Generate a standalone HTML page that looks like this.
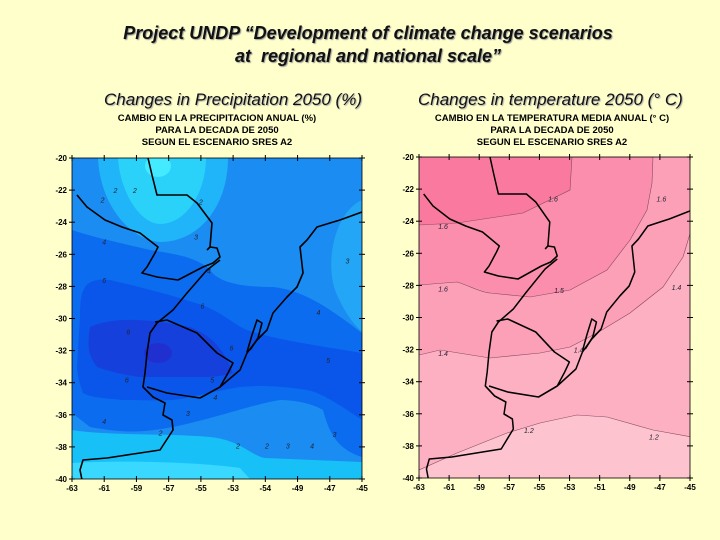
<!DOCTYPE html>
<html><head><meta charset="utf-8"><style>
body{margin:0;background:#ffffcc;}
#wrap{position:relative;width:720px;height:540px;overflow:hidden;background:#ffffcc;font-family:"Liberation Sans",sans-serif;}
.t{position:absolute;font-weight:bold;font-style:italic;font-size:18px;color:#111;text-shadow:1px 1px 1px #999;white-space:nowrap;}
.s{position:absolute;font-style:italic;font-size:17px;color:#111;text-shadow:1px 1px 1px #aaa;white-space:nowrap;}
</style></head><body>
<div id="wrap">
<div class="t" style="left:0;width:736px;text-align:center;top:23px">Project UNDP “Development of climate change scenarios</div>
<div class="t" style="left:0;width:736px;text-align:center;top:46px">at&nbsp; regional and national scale”</div>
<div class="s" style="left:104px;top:90px">Changes in Precipitation 2050 (%)</div>
<div class="s" style="left:418px;top:90px">Changes in temperature 2050 (° C)</div>
<svg id="svg" width="720" height="540" style="position:absolute;left:0;top:0">
<defs>
<clipPath id="c1"><rect x="72" y="158" width="290" height="321"/></clipPath>
<clipPath id="c2"><rect x="419" y="157" width="271" height="321"/></clipPath>
<g id="coast" fill="none" stroke="#000" stroke-width="1.6" stroke-linejoin="round">
<path d="M77,195 L87,207 L105,220 L122,227 L140,233 L158,247 L155,253 L147,267 L142,273 L157,277 L178,280 L203,267 L213,263 L220,257 L217,248 L210,247"/>
<path d="M148,158 L152,175 L157,195 L187,195 L197,203 L212,223 L210,247 L207,250"/>
<path d="M220,260 L207,270 L187,293 L173,310 L157,323 L150,333 L147,353 L145,373 L143,387 L153,397 L165,403 L163,415 L172,420 L173,430 L160,450 L140,453 L107,458 L83,460 L80,470 L82,480"/>
<path d="M155,322 L167,320 L197,333 L217,353 L233,363 L228,373 L220,387 L200,398 L167,393 L147,387"/>
<path d="M220,387 L240,370 L247,353 L257,340 L267,330 L273,313 L287,297 L297,287 L303,273 L300,247 L307,240 L317,227 L330,223 L340,220 L362,212"/>
<path d="M247,352 L252,335 L257,320 L262,323 L258,338 L250,350"/>
</g>
</defs>
<g>
<g clip-path="url(#c1)">
<rect x="72" y="158" width="290" height="321" fill="#1a8cf2"/>
<path fill="#20b4f8" d="M98,158 C100,205 130,240 160,242 C200,242 228,205 228,158 Z"/>
<path fill="#2ad2fa" d="M118,158 C120,192 140,224 160,224 C186,224 206,192 206,158 Z"/>
<ellipse cx="158" cy="166" rx="13" ry="11" fill="#44eaff"/>
<path fill="#22a6f5" d="M362,200 C335,212 325,260 335,290 C345,315 355,325 362,332 Z"/>
<path fill="#0b6cf0" d="M72,230 C90,236 107,240 150,250 C175,254 197,257 210,270 C220,285 250,287 273,287 C300,290 323,303 362,333 L362,457 C340,450 330,437 323,410 C310,402 290,400 280,400 C250,405 220,417 173,427 C140,433 123,433 90,427 L72,413 Z"/>
<path fill="#0a56ea" d="M80,317 C80,290 83,277 110,280 C140,287 180,297 207,307 C225,315 235,325 247,330 C270,338 300,343 362,353 L362,420 C340,405 320,392 307,390 C280,386 260,385 240,387 C210,392 190,398 173,400 C150,401 135,400 123,400 C100,398 90,397 83,393 C78,380 77,370 77,367 Z"/>
<path fill="#1640dc" d="M90,327 C110,318 140,317 190,327 C210,335 223,347 233,373 C220,377 207,377 207,377 L140,377 C115,374 97,367 97,367 C88,355 87,347 90,327 Z"/>
<ellipse cx="158" cy="353" rx="14" ry="10" fill="#2030d0"/>
<path fill="#18c0f8" d="M72,430 C110,436 170,433 210,437 C240,440 250,455 265,458 L362,462 L362,479 L72,479 Z"/>
<path fill="#38d8ff" d="M72,463 C120,460 200,462 240,468 L250,479 L72,479 Z"/>
<use href="#coast"/>
</g>
<g id="ax1"></g>
</g>
<g>
<g clip-path="url(#c2)">
<rect x="419" y="157" width="271" height="321" fill="#fdb0c2"/>
<path fill="#fca0b8" d="M419,285 L457,282 C470,286 480,292 490,293 L530,297 L570,290 L607,270 L630,240 L647,210 L652,183 L653,157 L690,157 L690,227 C688,245 686,252 683,257 L663,287 L630,313 L597,333 L570,347 L540,353 L490,358 L440,350 L419,355 Z"/>
<path fill="#fb8eac" d="M419,157 L653,157 L652,183 L647,210 L630,240 L607,270 L570,290 L530,297 L490,293 L457,282 L419,285 Z"/>
<path fill="#f97a9e" d="M419,157 L572,157 L570,190 L523,213 L457,223 L419,225 Z"/>
<path fill="#fdc4cf" d="M419,470 L457,453 L507,433 L540,423 L577,415 L607,417 L653,430 L690,437 L690,478 L419,478 Z"/>
<g fill="none" stroke="#8a4a60" stroke-width="0.6">
<path d="M419,225 L457,223 L523,213 L570,190 L572,157"/>
<path d="M419,285 L457,282 C470,286 480,292 490,293 L530,297 L570,290 L607,270 L630,240 L647,210 L652,183 L653,157"/>
<path d="M419,355 L440,350 L490,358 L540,353 L570,347 L597,333 L630,313 L663,287 L683,257 L692,227"/>
<path d="M419,470 L457,453 L507,433 L540,423 L577,415 L607,417 L653,430 L692,437"/>
</g>
<use href="#coast" transform="translate(419,157) scale(0.934,1) translate(-72,-158)"/>
</g>
<g id="ax2"></g>
</g>
</svg>
</div>
<script>
const latTicks=[-20,-22,-24,-26,-28,-30,-32,-34,-36,-38,-40];
const lonTicks=[-63,-61,-59,-57,-55,-53,-51,-49,-47,-45];
const lonLabels1=["-63","-61","-59","-57","-55","-53","-54","-49","-47","-45"];
const lonLabels2=["-63","-61","-59","-57","-55","-53","-51","-49","-47","-45"];
const mapTitles1=["CAMBIO EN LA PRECIPITACION ANUAL (%)","PARA LA DECADA DE 2050","SEGUN EL ESCENARIO SRES A2"];
const mapTitles2=["CAMBIO EN LA TEMPERATURA MEDIA ANUAL (° C)","PARA LA DECADA DE 2050","SEGUN EL ESCENARIO SRES A2"];
const precipLabels=[["2",-61.1,-22.6],["2",-60.3,-22],["2",-59.1,-22],["2",-55,-22.7],["4",-61,-25.2],["3",-55.3,-24.9],["4",-54.5,-27],["3",-45.9,-26.4],["6",-61,-27.6],["6",-54.9,-29.2],["4",-47.7,-29.6],["6",-59.5,-30.8],["6",-53.1,-31.8],["5",-47.1,-32.6],["6",-59.6,-33.8],["5",-54.3,-33.8],["4",-54.1,-34.9],["3",-55.8,-35.9],["4",-61,-36.4],["2",-57.5,-37.1],["3",-46.7,-37.2],["2",-52.7,-37.9],["2",-50.9,-37.9],["3",-49.6,-37.9],["4",-48.1,-37.9]];
const tempLabels=[["1.6",-54.1,-22.6],["1.6",-46.9,-22.6],["1.6",-61.4,-24.3],["1.6",-61.4,-28.2],["1.5",-53.7,-28.3],["1.4",-45.9,-28.1],["1.4",-61.4,-32.2],["1.4",-52.4,-32],["1.2",-55.7,-37],["1.2",-47.4,-37.4]];
const NS="http://www.w3.org/2000/svg";
function axes(gid,x0,x1,y0,y1,labels,titles,cx,clabels){
  const g=document.getElementById(gid);
  const sx=v=>x0+(v-(-63))/18*(x1-x0);
  const sy=v=>y0+(-20-v)/20*(y1-y0);
  function mk(tag,attrs,txt){const e=document.createElementNS(NS,tag);for(const k in attrs)e.setAttribute(k,attrs[k]);if(txt!==undefined)e.textContent=txt;g.appendChild(e);return e;}
  const fr=mk('rect',{x:x0,y:y0,width:x1-x0,height:y1-y0,fill:'none',stroke:'#000','stroke-width':0.8});
  
  
  latTicks.forEach(v=>{
    const y=sy(v);
    mk('line',{x1:x0-3,x2:x0+3,y1:y,y2:y,stroke:'#000'});
    mk('line',{x1:x1-3,x2:x1+3,y1:y,y2:y,stroke:'#000'});
    const t=mk('text',{x:x0-5,y:y+3,'text-anchor':'end','font-size':8,'font-weight':'bold','font-family':'Liberation Sans, sans-serif'},String(v));
    
    
  });
  lonTicks.forEach((v,i)=>{
    const x=sx(v);
    mk('line',{x1:x,x2:x,y1:y1-3,y2:y1+3,stroke:'#000'});
    mk('line',{x1:x,x2:x,y1:y0-3,y2:y0+3,stroke:'#000'});
    const t=mk('text',{x:x,y:y1+12,'text-anchor':'middle','font-size':8,'font-weight':'bold','font-family':'Liberation Sans, sans-serif'},labels[i]);
    
    
  });
  titles.forEach((s,i)=>{
    const t=mk('text',{x:cx,y:121+i*12,'text-anchor':'middle','font-size':9.5,'font-weight':'bold','font-family':'Liberation Sans, sans-serif'},s);
    
    
  });
  clabels.forEach(c=>{
    const t=mk('text',{x:sx(c[1]),y:sy(c[2])+3,'text-anchor':'middle','font-size':7,'font-style':'italic',fill:'#223','font-family':'Liberation Sans, sans-serif'},c[0]);
    
    
  });
}
axes('ax1',72,362,158,479,lonLabels1,mapTitles1,217,precipLabels);
axes('ax2',419,690,157,478,lonLabels2,mapTitles2,552,tempLabels);
</script>
</body></html>
